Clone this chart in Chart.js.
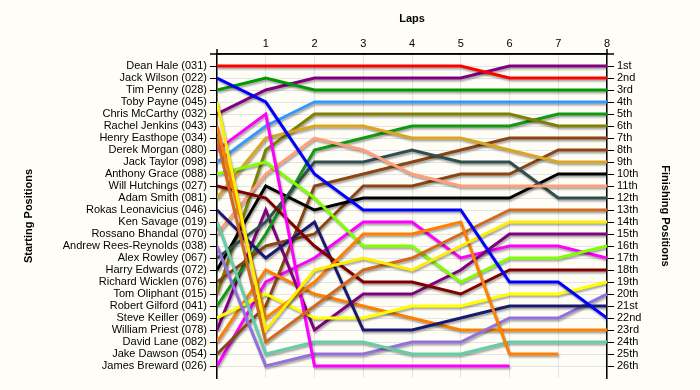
<!DOCTYPE html>
<html>
<head>
<meta charset="utf-8">
<script src="https://cdn.jsdelivr.net/npm/chart.js@4.4.0/dist/chart.umd.min.js"></script>
<style>
  html, body { margin: 0; padding: 0; background: #fffef6; }
</style>
</head>
<body>
<canvas id="chart" width="700" height="390"></canvas>
<script>
const laps = [0, 1, 2, 3, 4, 5, 6, 7, 8];

// grid order (left axis)
const startNames = [
  'Dean Hale (031)', 'Jack Wilson (022)', 'Tim Penny (028)', 'Toby Payne (045)',
  'Chris McCarthy (032)', 'Rachel Jenkins (043)', 'Henry Easthope (034)', 'Derek Morgan (080)',
  'Jack Taylor (098)', 'Anthony Grace (088)', 'Will Hutchings (027)', 'Adam Smith (081)',
  'Rokas Leonavicius (046)', 'Ken Savage (019)', 'Rossano Bhandal (070)', 'Andrew Rees-Reynolds (038)',
  'Alex Rowley (067)', 'Harry Edwards (072)', 'Richard Wicklen (076)', 'Tom Oliphant (015)',
  'Robert Gilford (041)', 'Steve Keiller (069)', 'William Priest (078)', 'David Lane (082)',
  'Jake Dawson (054)', 'James Breward (026)'
];

const finishLabels = [
  '1st', '2nd', '3rd', '4th', '5th', '6th', '7th', '8th', '9th', '10th', '11th', '12th', '13th',
  '14th', '15th', '16th', '17th', '18th', '19th', '20th', '21st', '22nd', '23rd', '24th', '25th', '26th'
];

// position after each lap (lap 0 = start), null once retired
const deanHale      = [1, 1, 1, 1, 1, 1, 2, 2, 2];
const jackWilson    = [2, 4, 10, 13, 13, 13, 19, 19, 22];
const timPenny      = [3, 2, 3, 3, 3, 3, 3, 3, 3];
const tobyPayne     = [4, 23, 18, 17, 18, 16, 14, 14, 14];
const chrisMcCarthy = [5, 3, 2, 2, 2, 2, 1, 1, 1];
const rachelJenkins = [6, 22, 19, 15, 15, 14, 25, 25, null];
const henryEasthope = [7, 24, 21, 18, 17, 15, 13, 13, 13];
const derekMorgan   = [8, 5, 26, 26, 26, 26, 26, null, null];
const jackTaylor    = [9, 6, 4, 4, 4, 4, 4, 4, 4];
const anthonyGrace  = [10, 9, 12, 16, 16, 19, 17, 17, 16];
const willHutchings = [11, 12, 16, 19, 19, 20, 18, 18, 18];
const adamSmith     = [12, 7, 6, 6, 7, 7, 8, 9, 9];
const rokasLeo      = [13, 17, 14, 23, 23, 22, 21, 21, 21];
const kenSavage     = [14, 25, 24, 24, 25, 25, 24, 24, 24];
const rossano       = [15, 10, 7, 8, 10, 11, 11, 11, 11];
const andrewRR      = [16, 26, 25, 25, 24, 24, 22, 22, 20];
const alexRowley    = [17, 14, 9, 9, 8, 9, 9, 12, 12];
const harryEdwards  = [18, 11, 13, 12, 12, 12, 12, 10, 10];
const richardW      = [19, 16, 15, 11, 11, 10, 10, 8, 8];
const tomOliphant   = [20, 8, 5, 5, 5, 5, 5, 6, 6];
const robertGilford = [21, 15, 8, 7, 6, 6, 6, 5, 5];
const steveKeiller  = [22, 20, 22, 22, 21, 21, 20, 20, 19];
const williamPriest = [23, 13, 23, 20, 20, 18, 15, 15, 15];
const davidLane     = [24, 18, 20, 21, 22, 23, 23, 23, 23];
const jakeDawson    = [25, 21, 11, 10, 9, 8, 7, 7, 7];
const jamesBreward  = [26, 19, 17, 14, 14, 17, 16, 16, 17];

const series = [
  deanHale, jackWilson, timPenny, tobyPayne, chrisMcCarthy, rachelJenkins, henryEasthope,
  derekMorgan, jackTaylor, anthonyGrace, willHutchings, adamSmith, rokasLeo, kenSavage,
  rossano, andrewRR, alexRowley, harryEdwards, richardW, tomOliphant, robertGilford,
  steveKeiller, williamPriest, davidLane, jakeDawson, jamesBreward
];

const lineColors = [
  '#ff0000', '#0000ff', '#009a00', '#ffee00', '#800080', '#ff8000', '#d2691e',
  '#ff00ff', '#3399ff', '#80ff00', '#800000', '#daa520', '#191970', '#66cdaa',
  '#ffa07a', '#9370db', '#2f4f4f', '#000000', '#8b4513', '#808000', '#119911',
  '#ffff00', '#800080', '#ff8000', '#8b4513', '#ff00ff'
];

// little drop shadow under every line, like the original
const lineShadow = {
  id: 'lineShadow',
  beforeDatasetsDraw(chart) {
    const ctx = chart.ctx;
    ctx.save();
    ctx.shadowColor = 'rgba(0,0,0,0.35)';
    ctx.shadowBlur = 2;
    ctx.shadowOffsetX = 1;
    ctx.shadowOffsetY = 2;
  },
  afterDatasetsDraw(chart) {
    chart.ctx.restore();
  }
};

// the top axis line runs a bit past both side axes, and they poke above it
const axisOverhang = {
  id: 'axisOverhang',
  afterDraw(chart) {
    const {ctx, chartArea: a} = chart;
    ctx.save();
    ctx.strokeStyle = '#000';
    ctx.lineWidth = 1.5;
    ctx.beginPath();
    ctx.moveTo(a.left - 7, a.top);
    ctx.lineTo(a.right + 7, a.top);
    ctx.moveTo(a.left, a.top - 5);
    ctx.lineTo(a.left, a.top);
    ctx.moveTo(a.right, a.top - 5);
    ctx.lineTo(a.right, a.top);
    ctx.stroke();
    ctx.restore();
  }
};

const positionTicks = scale => {
  scale.ticks = startNames.map((n, i) => ({value: i + 1}));
};

const datasets = series.map((pos, i) => ({
  label: startNames[i],
  data: laps.map((lap, j) => ({x: lap, y: pos[j]})),
  borderColor: lineColors[i],
  borderWidth: 3,
  pointRadius: 0,
  tension: 0,
  fill: false
}));

const labelFont = {family: 'Liberation Sans, Arial, sans-serif', size: 11};
const titleFont = {family: 'Liberation Sans, Arial, sans-serif', size: 11, weight: 'bold'};

new Chart(document.getElementById('chart'), {
  type: 'line',
  data: {datasets},
  plugins: [lineShadow, axisOverhang],
  options: {
    responsive: false,
    animation: false,
    devicePixelRatio: 1,
    layout: {padding: {left: 22, right: 28, top: 12, bottom: 12}},
    plugins: {
      legend: {display: false},
      tooltip: {enabled: false}
    },
    scales: {
      x: {
        type: 'linear',
        position: 'top',
        min: 0,
        max: 8,
        ticks: {
          stepSize: 1,
          color: '#000',
          font: labelFont,
          padding: 3,
          callback: v => v === 0 ? '' : v
        },
        grid: {color: '#e4e4e4', drawTicks: false},
        border: {color: '#000', width: 1.5},
        title: {display: true, text: 'Laps', color: '#000', font: titleFont, padding: {top: 0, bottom: 0}},
        afterFit: s => { s.height = 42; }
      },
      y: {
        position: 'left',
        reverse: true,
        min: 0,
        max: 27,
        afterBuildTicks: positionTicks,
        ticks: {
          autoSkip: false,
          color: '#000',
          font: labelFont,
          padding: 3,
          callback: v => startNames[v - 1]
        },
        grid: {color: '#e4e4e4', tickColor: '#000', tickLength: 7},
        border: {color: '#000', width: 1.5},
        title: {display: true, text: 'Starting Positions', color: '#000', font: titleFont, padding: {top: 0, bottom: 0}},
        afterFit: s => { s.width = 195; }
      },
      y2: {
        position: 'right',
        reverse: true,
        min: 0,
        max: 27,
        afterBuildTicks: positionTicks,
        ticks: {
          autoSkip: false,
          color: '#000',
          font: labelFont,
          padding: 3,
          callback: v => finishLabels[v - 1]
        },
        grid: {drawOnChartArea: false, tickColor: '#000', tickLength: 7},
        border: {color: '#000', width: 1.5},
        title: {display: true, text: 'Finishing Positions', color: '#000', font: titleFont, padding: {top: 0, bottom: 0}},
        afterFit: s => { s.width = 65; }
      }
    }
  }
});
</script>
</body>
</html>
